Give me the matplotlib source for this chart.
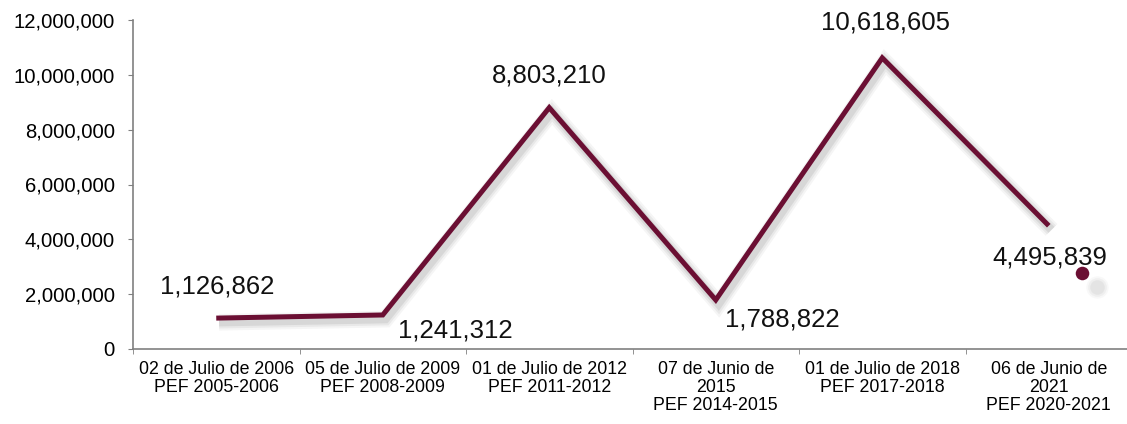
import matplotlib
matplotlib.use("Agg")
import matplotlib.pyplot as plt
import matplotlib.patheffects as pe
from matplotlib.ticker import FuncFormatter, FixedLocator

plt.rcParams['font.family'] = ['Liberation Sans', 'DejaVu Sans']

categories = [
    "02 de Julio de 2006\nPEF 2005-2006",
    "05 de Julio de 2009\nPEF 2008-2009",
    "01 de Julio de 2012\nPEF 2011-2012",
    "07 de Junio de\n2015\nPEF 2014-2015",
    "01 de Julio de 2018\nPEF 2017-2018",
    "06 de Junio de\n2021\nPEF 2020-2021",
]
values = [1126862, 1241312, 8803210, 1788822, 10618605, 4495839]
# label offsets in pixels (dx, dy) relative to each point
label_offsets = [(1, 32), (73, -16), (0, 32), (67, -20), (3, 35), (1, -32)]
# stray decorative marker near last label
stray_x = [5.2]
stray_y = [2770000]

line_color = "#6B0F33"

fig = plt.figure(figsize=(11.27, 4.24), dpi=100)
ax = fig.add_axes([133/1127, (424-349)/424, (1132-133)/1127, (349-20)/424])

xs = list(range(len(values)))
shadow = [pe.SimpleLineShadow(offset=(2, -3), shadow_color='black', alpha=a, linewidth=w)
          for a, w in [(0.04, 12), (0.05, 9), (0.07, 6)]]
ax.plot(xs, values, color=line_color, lw=3.6, solid_joinstyle='miter', solid_capstyle='butt',
        path_effects=shadow + [pe.Normal()], zorder=3)

# blurred shadow for the stray marker
for s, a in [(260, 0.05), (180, 0.07), (110, 0.09)]:
    ax.scatter(stray_x, stray_y, s=s, color='gray', alpha=a, linewidths=0, zorder=3.5,
               transform=ax.transData + matplotlib.transforms.ScaledTranslation(15/100, -14/100, fig.dpi_scale_trans))
ax.scatter(stray_x, stray_y, s=95, color=line_color, zorder=4, linewidths=0)

for x, v, (dx, dy) in zip(xs, values, label_offsets):
    ax.annotate(f"{v:,}", (x, v), xytext=(dx, dy), textcoords='offset pixels',
                ha='center', va='center', fontsize=18.5, color='#111111', zorder=5)

ax.set_xlim(-0.5, 5.5)
ax.set_ylim(0, 12000000)
ax.set_yticks(range(0, 12000001, 2000000))
ax.yaxis.set_major_formatter(FuncFormatter(lambda v, p: f"{int(v):,}"))
ax.set_xticks(xs)
ax.set_xticklabels(categories, fontsize=12.8, linespacing=1.05)
ax.xaxis.set_minor_locator(FixedLocator([i - 0.5 for i in range(len(values) + 1)]))
ax.tick_params(axis='x', which='major', length=0, pad=9)
ax.tick_params(axis='x', which='minor', length=3.6, color='#808080')
ax.tick_params(axis='y', labelsize=14.6, length=3.6, color='#808080', pad=9.5)

for s in ['top', 'right']:
    ax.spines[s].set_visible(False)
for s in ['left', 'bottom']:
    ax.spines[s].set_color('#808080')
    ax.spines[s].set_linewidth(1.2)

fig.savefig("out.png", dpi=100)
